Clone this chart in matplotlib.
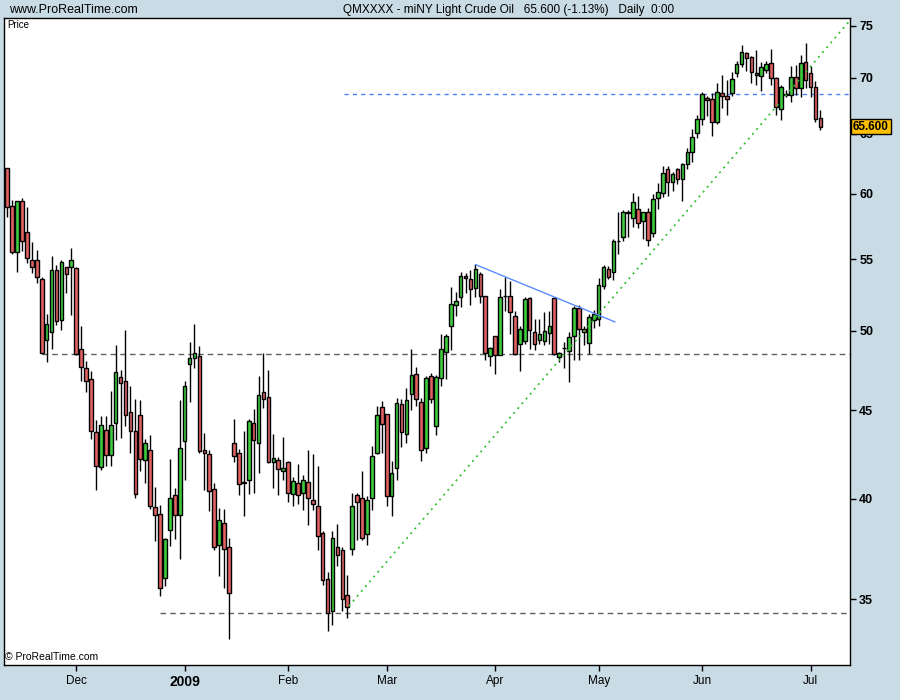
import matplotlib
matplotlib.use('Agg')
import matplotlib.pyplot as plt
from matplotlib.ticker import FixedLocator, NullLocator
import matplotlib.transforms as mtransforms

opens = [62.07, 59.0, 55.5, 59.46, 57.0, 54.95, 54.93, 53.56, 49.39, 49.92,
         54.2, 50.76, 54.42, 54.42, 54.34, 48.8, 47.58, 46.9, 43.7, 41.72,
         43.82, 42.37, 44.23, 47.02, 46.76, 44.91, 43.74, 44.72, 42.09, 42.67,
         39.56, 39.2, 36.0, 38.37, 40.2, 39.14, 43.19, 47.84, 48.22, 48.37,
         42.67, 42.45, 40.52, 37.59, 38.72, 37.52, 43.07, 42.5, 40.88, 41.0,
         44.23, 43.07, 46.1, 45.8, 42.0, 42.11, 41.5, 42.0, 40.25, 40.84,
         40.3, 40.9, 39.93, 39.62, 38.23, 35.96, 34.44, 37.52, 37.37, 35.17,
         37.4, 40.2, 40.04, 38.17, 40.02, 42.48, 45.18, 44.76, 40.14, 41.67,
         45.36, 43.58, 45.96, 47.21, 45.48, 42.76, 47.11, 44.05, 46.95, 48.61,
         50.31, 51.73, 52.29, 53.77, 53.56, 52.92, 53.93, 52.36, 48.37, 49.65,
         48.42, 52.38, 52.38, 50.99, 49.13, 49.3, 52.22, 49.92, 49.39, 49.35,
         49.85, 52.22, 48.29, 48.84, 48.7, 49.65, 51.54, 50.14, 49.2, 50.74,
         50.78, 53.1, 54.27, 54.05, 56.33, 56.63, 58.55, 58.08, 58.78, 57.9,
         58.55, 56.93, 59.65, 60.04, 61.99, 60.97, 61.99, 61.16, 62.4, 63.4,
         65.03, 66.25, 68.15, 68.03, 65.99, 68.58, 68.3, 68.58, 70.45, 71.33,
         72.32, 71.94, 70.3, 70.18, 70.71, 71.37, 69.96, 67.13, 68.45, 68.39,
         70.12, 69.03, 71.52, 70.45, 69.12, 66.34]
highs = [62.1, 59.5, 59.46, 59.7, 58.93, 56.26, 55.68, 53.72, 51.15, 55.24,
         54.58, 54.95, 54.45, 55.8, 54.4, 50.3, 48.05, 47.37, 44.43, 44.67,
         44.63, 46.17, 49.08, 47.48, 50.07, 46.48, 45.68, 45.62, 43.32, 43.55,
         40.63, 39.68, 37.96, 42.17, 40.57, 45.58, 46.8, 49.26, 50.47, 49.02,
         43.65, 42.69, 40.84, 39.51, 39.46, 37.96, 44.49, 42.73, 43.78, 44.47,
         45.08, 47.1, 48.54, 47.48, 43.61, 42.28, 43.42, 42.08, 41.19, 41.91,
         41.26, 42.69, 42.46, 41.8, 38.3, 36.3, 38.3, 38.69, 37.52, 36.16,
         40.3, 40.3, 41.51, 40.16, 42.89, 45.26, 45.52, 44.78, 42.08, 45.72,
         45.66, 46.33, 48.82, 47.66, 45.72, 47.11, 47.27, 47.17, 49.79, 49.8,
         53.03, 52.68, 54.04, 53.99, 54.22, 54.63, 54.04, 52.38, 48.94, 49.69,
         52.85, 53.74, 53.46, 51.33, 50.3, 52.29, 52.27, 50.78, 50.78, 51.3,
         51.37, 52.27, 48.61, 49.28, 49.9, 51.7, 51.72, 50.34, 51.13, 51.42,
         53.63, 54.58, 54.5, 56.5, 58.55, 58.72, 58.72, 60.04, 59.83, 58.6,
         58.85, 59.96, 60.84, 62.26, 62.26, 61.79, 62.12, 62.53, 63.74, 65.37,
         66.63, 68.73, 68.36, 68.58, 69.55, 70.25, 69.8, 70.58, 71.59, 73.13,
         72.47, 72.03, 72.64, 71.5, 71.58, 72.74, 70.12, 69.34, 68.88, 71.07,
         71.24, 72.19, 73.3, 71.07, 69.71, 67.07]
lows = [58.2, 55.4, 54.1, 55.63, 54.7, 53.98, 53.27, 48.5, 48.0, 48.8,
        50.4, 50.07, 52.57, 51.08, 48.4, 46.8, 46.12, 43.33, 40.48, 41.57,
        41.8, 41.8, 43.22, 43.36, 44.03, 42.53, 40.04, 41.48, 40.84, 39.47,
        37.8, 35.13, 35.61, 37.54, 37.91, 36.92, 40.98, 45.46, 47.58, 42.51,
        40.48, 39.33, 37.38, 36.08, 35.53, 33.2, 41.98, 40.17, 39.07, 40.25,
        40.28, 41.37, 45.15, 41.95, 40.57, 40.17, 40.98, 39.8, 39.6, 39.72,
        39.42, 38.62, 39.42, 37.35, 35.65, 33.53, 33.8, 36.56, 34.44, 34.14,
        37.1, 37.88, 37.85, 37.63, 39.42, 42.45, 42.48, 39.63, 39.11, 41.02,
        42.86, 43.07, 44.98, 45.26, 42.03, 42.5, 45.42, 43.55, 46.44, 46.89,
        48.76, 50.97, 51.6, 52.57, 51.76, 52.29, 51.87, 48.11, 47.69, 47.21,
        48.4, 51.37, 49.79, 48.42, 47.37, 49.15, 48.8, 48.76, 49.13, 49.1,
        49.13, 48.42, 48.0, 47.6, 46.7, 48.11, 48.07, 49.09, 48.5, 50.19,
        50.31, 52.85, 53.56, 53.51, 55.36, 56.38, 56.68, 57.39, 57.31, 56.5,
        56.0, 56.68, 58.8, 59.75, 59.83, 60.22, 60.79, 59.45, 62.04, 62.62,
        64.64, 65.75, 66.54, 64.82, 65.81, 67.22, 66.63, 68.33, 70.12, 71.0,
        70.67, 69.5, 69.34, 68.82, 70.45, 69.34, 66.63, 66.19, 68.27, 67.82,
        68.42, 68.27, 69.03, 68.27, 66.04, 65.31]
closes = [58.93, 55.5, 59.4, 56.33, 55.07, 54.42, 53.74, 48.54, 50.45, 54.2,
          50.65, 54.78, 53.93, 54.95, 48.5, 47.65, 46.75, 43.74, 41.76, 44.11,
          42.37, 44.11, 47.33, 46.64, 44.68, 43.74, 40.27, 42.17, 43.07, 39.6,
          39.12, 35.53, 37.91, 40.04, 39.14, 42.79, 46.44, 48.22, 48.54, 42.59,
          42.53, 40.39, 37.52, 38.88, 37.41, 35.3, 42.34, 40.79, 40.85, 44.37,
          43.25, 45.93, 45.68, 42.0, 42.23, 41.59, 41.67, 40.3, 40.95, 40.17,
          41.0, 40.04, 39.72, 38.07, 35.9, 34.35, 37.96, 37.1, 35.01, 34.64,
          39.62, 39.83, 37.96, 39.93, 42.34, 44.7, 44.17, 40.14, 41.39, 45.42,
          43.68, 45.6, 47.15, 45.66, 42.65, 46.95, 45.64, 47.02, 48.8, 49.67,
          51.82, 52.03, 53.77, 53.63, 52.85, 54.27, 52.36, 48.52, 48.87, 48.42,
          52.29, 52.4, 51.26, 48.48, 50.12, 52.15, 50.05, 49.13, 49.79, 50.0,
          50.33, 48.48, 48.54, 48.84, 49.6, 51.54, 50.12, 49.92, 50.92, 51.13,
          53.13, 54.42, 53.74, 56.33, 56.35, 58.55, 58.5, 59.33, 57.7, 58.55,
          56.41, 59.57, 60.13, 61.65, 60.92, 61.6, 61.16, 62.4, 63.4, 64.68,
          66.25, 68.49, 68.0, 66.04, 68.67, 68.36, 68.03, 69.87, 71.26, 72.47,
          71.9, 70.55, 70.45, 71.02, 71.28, 69.96, 67.37, 69.12, 68.45, 70.12,
          69.03, 71.37, 69.8, 69.18, 66.25, 65.6]

month_pos = [14, 36, 57, 77, 99, 120, 141, 163]
month_labels = ['Dec', '2009', 'Feb', 'Mar', 'Apr', 'May', 'Jun', 'Jul']
price_ticks = [35, 40, 45, 50, 55, 60, 65, 70, 75]

support_levels = [48.5, 34.37]
support_start = [7, 31]
resistance_level = 68.5
resistance_start = 68.3
up_trend_x = [69.3, 170.9]
up_trend_y = [34.67, 75.5]
down_trend_x = [95.05, 123.3]
down_trend_y = [54.6, 50.6]
last_price = 65.6

bg = '#c9dbe5'
plt.rcParams['font.family'] = ['Liberation Sans', 'DejaVu Sans']

fig = plt.figure(figsize=(9, 7), dpi=100, facecolor=bg)
ax = fig.add_axes([3.5 / 900, 35 / 700, 846 / 900, 647 / 700])
ax.set_facecolor('white')

x = list(range(len(closes)))
colors = ['#3fcc3f' if c >= o else '#e26262' for o, c in zip(opens, closes)]
bottoms = [min(o, c) for o, c in zip(opens, closes)]
heights = [max(abs(c - o), 0.02) for o, c in zip(opens, closes)]

ax.vlines(x, lows, highs, color='black', linewidth=1, zorder=2)
ax.bar(x, heights, bottom=bottoms, width=0.74, color=colors, edgecolor='black', linewidth=1, zorder=3)

xmax = 170.9
for lvl, start in zip(support_levels, support_start):
    ax.hlines(lvl, start, xmax, colors='#606060', linestyles=(0, (4, 3)), linewidth=1, zorder=1)
ax.hlines(resistance_level, resistance_start, xmax, colors='#4d7fff', linestyles=(0, (3, 3)), linewidth=1, zorder=1)
ax.plot(up_trend_x, up_trend_y, color='#2fbf2f', linestyle=(0, (1.2, 2.6)), linewidth=1.2, zorder=4)
ax.plot(down_trend_x, down_trend_y, color='#5b8cff', linewidth=1, zorder=4)

ax.set_yscale('log')
ax.set_xlim(-0.75, xmax)
ax.set_ylim(32.06, 75.8)

ax.yaxis.tick_right()
ax.yaxis.set_major_locator(FixedLocator(price_ticks))
ax.yaxis.set_minor_locator(NullLocator())
ax.set_yticklabels([str(t) for t in price_ticks], fontweight='bold', fontsize=9)
ax.set_xticks(month_pos)
ax.set_xticklabels(month_labels, fontsize=8.5)
ax.get_xticklabels()[1].set_fontweight('bold')
ax.get_xticklabels()[1].set_fontsize(10)
ax.tick_params(axis='both', direction='out', length=4, width=1, color='black', pad=3)
ax.xaxis.set_minor_locator(NullLocator())
for s in ax.spines.values():
    s.set_linewidth(1)

ax.text(0.004, 0.997, 'Price', transform=ax.transAxes, fontsize=7, va='top', ha='left')
ax.text(0.002, 0.004, '\u00a9 ProRealTime.com', transform=ax.transAxes, fontsize=7.5, va='bottom', ha='left')

# current price flag over the right axis, as in the original
trans = mtransforms.blended_transform_factory(ax.transAxes, ax.transData)
ax.text(1.004, last_price, '%.3f' % last_price, transform=trans, fontsize=8.5, fontweight='bold',
        va='center', ha='left', zorder=10, clip_on=False,
        bbox=dict(boxstyle='square,pad=0.15', facecolor='#ffc000', edgecolor='black', linewidth=1))

fig.text(9 / 900, 1 - 10 / 700, 'www.ProRealTime.com', fontsize=9, va='center', ha='left')
fig.text(343 / 900, 1 - 10 / 700, 'QMXXXX - miNY Light Crude Oil   65.600 (-1.13%)   Daily  0:00',
         fontsize=8.5, va='center', ha='left')

plt.savefig('out.png', dpi=100, facecolor=bg)
